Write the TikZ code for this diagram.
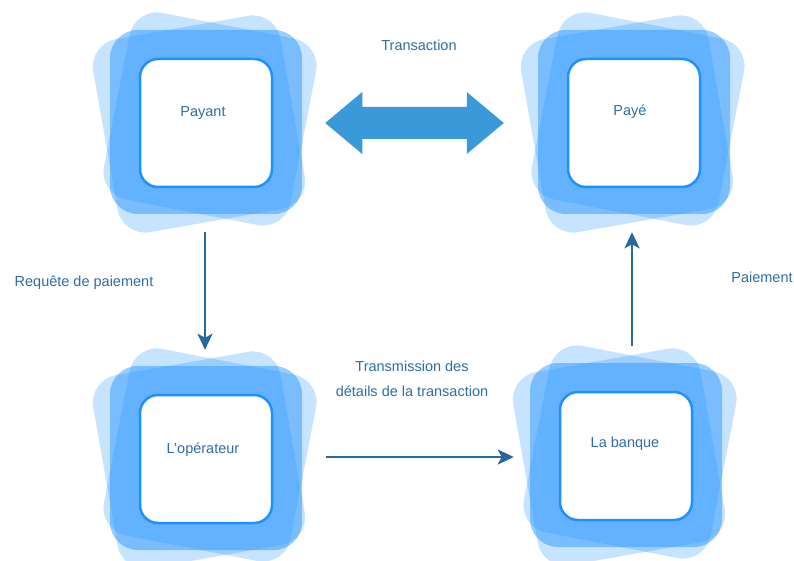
\documentclass[tikz,border=0pt]{standalone}
\usepackage{fontspec}
\setmainfont{Liberation Sans}
\usetikzlibrary{arrows.meta,calc}

\definecolor{tilefill}{RGB}{30,144,255}
\definecolor{tileedge}{RGB}{30,144,255}
\definecolor{inktext}{RGB}{46,110,165}
\definecolor{flow}{RGB}{40,104,156}
\definecolor{swapblue}{RGB}{58,154,217}

\tikzset{
  tile/.style={fill=tilefill, fill opacity=#1, rounded corners=28pt},
  card/.style={draw=tileedge, line width=2.5pt, fill=white, rounded corners=18pt,
               minimum width=132pt, minimum height=128pt, inner sep=0pt},
  caption/.style={text=inktext, font=\fontsize{14.5}{25}\selectfont, inner sep=0pt},
  conn/.style={draw=flow, line width=2.8pt,
               -{Stealth[length=16pt,width=15pt,inset=4pt]}}
}

% three overlapping translucent rounded squares behind each card
\newcommand\tilestack[1]{%
  \begin{scope}[shift={#1}]
    \fill[tile=0.25, rotate around={-11:(4,-3)}] (-91,-98) rectangle (99,92);
    \fill[tile=0.25, rotate around={10:(-7,2)}] (-102,-96) rectangle (88,100);
    \fill[tile=0.45] (-96,-92) rectangle (96,92);
  \end{scope}}

\begin{document}
\begin{tikzpicture}[x=1pt,y=-1pt]
  \useasboundingbox (0,0) rectangle (794,561);
  \fill[white] (0,0) rectangle (794,561);

  % cards
  \tilestack{(206,122)}
  \node[card] (payant) at (206,123) {};
  \node[caption] (payant-t) at (203,113) {Payant};

  \tilestack{(634,122)}
  \node[card] (paye) at (634,123) {};
  \node[caption] (paye-t) at (630,112) {Payé};

  \tilestack{(206,458)}
  \node[card] (oper) at (206,459) {};
  \node[caption] (oper-t) at (203,450) {L'opérateur};

  \tilestack{(626,455)}
  \node[card] (banque) at (626,456) {};
  \node[caption] (banque-t) at (625,444) {La banque};

  % two-way transaction arrow
  \coordinate (swapL) at ($(payant.east)+(52,0)$);
  \coordinate (swapR) at ($(paye.west)+(-63,0)$);
  \fill[swapblue] (swapL) -- ($(swapL)+(37,-31)$) -- ($(swapL)+(37,-16)$)
     -- ($(swapR)+(-37,-16)$) -- ($(swapR)+(-37,-31)$) -- (swapR)
     -- ($(swapR)+(-37,31)$) -- ($(swapR)+(-37,16)$)
     -- ($(swapL)+(37,16)$) -- ($(swapL)+(37,31)$) -- cycle;
  \node[caption] (lbl-trans) at (419,45) {Transaction};

  % flow arrows
  \draw[conn] ($(payant.south)+(-1,44)$) -- ($(oper.north)+(-1,-44)$);
  \node[caption] (lbl-req) at (84,283) {Requête de paiement};

  \draw[conn] ($(oper.east)+(53,-2)$) -- ($(banque.west)+(-45,1)$);
  \node[caption, align=center] (lbl-tx) at (412,379)
    {Transmission des\\détails de la transaction};

  \draw[conn] ($(banque.north)+(6,-45)$) -- ($(paye.south)+(-2,44)$);
  \node[caption] (lbl-pay) at (762,277) {Paiement};
\end{tikzpicture}
\end{document}
